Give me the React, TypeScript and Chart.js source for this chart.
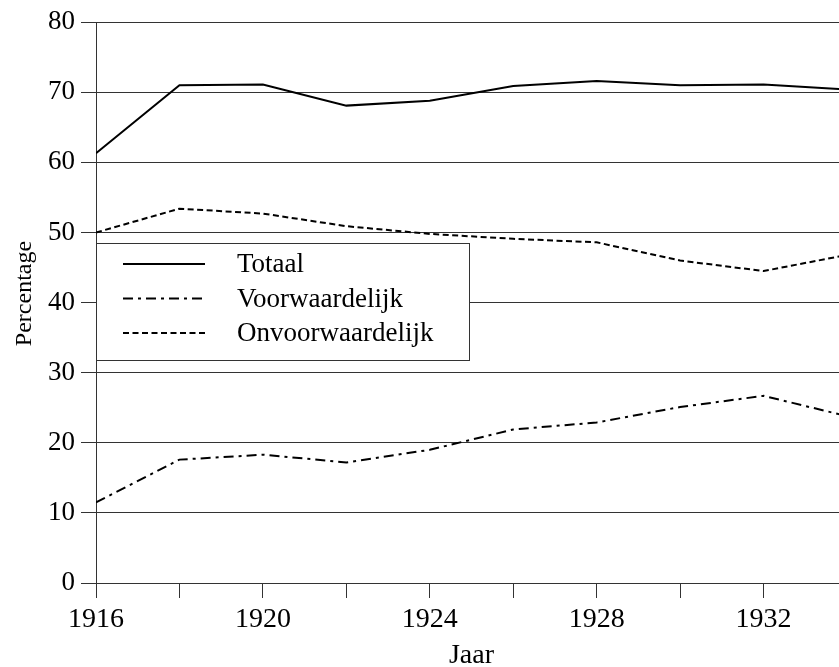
import React, { useEffect, useRef } from "react";
import { Chart, registerables } from "chart.js";

Chart.register(...registerables);

const years = [1916, 1918, 1920, 1922, 1924, 1926, 1928, 1930, 1932, 1934];
const totaal = [61.3, 71.0, 71.1, 68.1, 68.8, 70.9, 71.6, 71.0, 71.1, 70.4];
const voorwaardelijk = [11.5, 17.6, 18.3, 17.2, 19.0, 21.9, 22.9, 25.1, 26.7, 23.8];
const onvoorwaardelijk = [50.0, 53.4, 52.7, 50.9, 49.8, 49.1, 48.6, 46.0, 44.5, 46.8];
const yTicks = [0, 10, 20, 30, 40, 50, 60, 70, 80];
const labelEvery = 4;

const seriesNames = ["Totaal", "Voorwaardelijk", "Onvoorwaardelijk"];
const yTitle = "Percentage";
const xTitle = "Jaar";
const FONT = '"Liberation Serif", "Times New Roman", Times, serif';

const legendPlugin = {
  id: "boxLegend",
  afterDatasetsDraw(chart: any) {
    const ctx = chart.ctx;
    ctx.save();
    const bx = 96.5, by = 243.5, bw = 373, bh = 117;
    ctx.fillStyle = "#fff";
    ctx.fillRect(bx, by, bw, bh);
    ctx.strokeStyle = "#333";
    ctx.lineWidth = 1;
    ctx.strokeRect(bx, by, bw, bh);
    chart.data.datasets.forEach((ds: any, i: number) => {
      const base = 272 + i * 34.5;
      const ly = base - 8;
      ctx.setLineDash(ds.borderDash || []);
      ctx.lineWidth = 2;
      ctx.strokeStyle = "#000";
      ctx.beginPath();
      ctx.moveTo(123, ly);
      ctx.lineTo(205, ly);
      ctx.stroke();
      ctx.setLineDash([]);
      ctx.fillStyle = "#000";
      ctx.font = `27px ${FONT}`;
      ctx.textBaseline = "alphabetic";
      ctx.textAlign = "left";
      ctx.fillText(ds.label, 237, base);
    });
    // y-axis title
    ctx.translate(25, 293.5);
    ctx.rotate(-Math.PI / 2);
    ctx.font = `24px ${FONT}`;
    ctx.textAlign = "center";
    ctx.textBaseline = "middle";
    ctx.fillStyle = "#000";
    ctx.fillText(yTitle, 0, 0);
    ctx.restore();
  },
};

export default function App() {
  const ref = useRef<HTMLCanvasElement>(null);
  useEffect(() => {
    const pts = (arr: number[]) => years.map((x, i) => ({ x, y: arr[i] }));
    const chart = new Chart(ref.current!, {
      type: "line",
      data: {
        datasets: [
          { label: seriesNames[0], data: pts(totaal), borderColor: "#000", borderWidth: 2, pointRadius: 0, borderDash: [] },
          { label: seriesNames[1], data: pts(voorwaardelijk), borderColor: "#000", borderWidth: 2, pointRadius: 0, borderDash: [10, 5, 3, 5] },
          { label: seriesNames[2], data: pts(onvoorwaardelijk), borderColor: "#000", borderWidth: 2, pointRadius: 0, borderDash: [6, 3.5] },
        ],
      },
      options: {
        animation: false,
        responsive: false,
        devicePixelRatio: 1,
        layout: { padding: { top: 20, right: 13, left: 0, bottom: 0 } },
        plugins: { legend: { display: false }, tooltip: { enabled: false } },
        scales: {
          x: {
            type: "linear",
            min: years[0],
            max: years[years.length - 1],
            afterBuildTicks: (s: any) => {
              s.ticks = years.map((v) => ({ value: v }));
            },
            afterFit: (s: any) => {
              s.height = 84;
            },
            ticks: {
              autoSkip: false,
              maxRotation: 0,
              minRotation: 0,
              padding: 5,
              color: "#000",
              font: { family: FONT, size: 28 },
              callback: (v: any) => ((Number(v) - years[0]) % labelEvery === 0 ? String(v) : ""),
            },
            grid: { drawOnChartArea: false, drawTicks: true, tickLength: 15, color: "#333", lineWidth: 1 },
            border: { display: true, color: "#333", width: 1 },
            title: {
              display: true,
              text: xTitle,
              color: "#000",
              font: { family: FONT, size: 28, lineHeight: 0.8 },
              padding: { top: 0, bottom: 0 },
            },
          },
          y: {
            min: 0,
            max: 80,
            afterBuildTicks: (s: any) => {
              s.ticks = yTicks.map((v) => ({ value: v }));
            },
            afterFit: (s: any) => {
              s.width = 96;
            },
            ticks: {
              padding: 6,
              color: "#000",
              font: { family: FONT, size: 27 },
            },
            grid: { drawOnChartArea: true, drawTicks: true, tickLength: 15, color: "#333", lineWidth: 1 },
            border: { display: true, color: "#333", width: 1 },
            title: { display: false },
          },
        },
      },
      plugins: [legendPlugin],
    });
    return () => chart.destroy();
  }, []);
  return (
    <div style={{ position: "fixed", left: 0, top: 0, width: 839, height: 667, overflow: "hidden", background: "#fff" }}>
      <canvas ref={ref} width={860} height={667} style={{ display: "block", width: 860, height: 667 }} />
    </div>
  );
}
